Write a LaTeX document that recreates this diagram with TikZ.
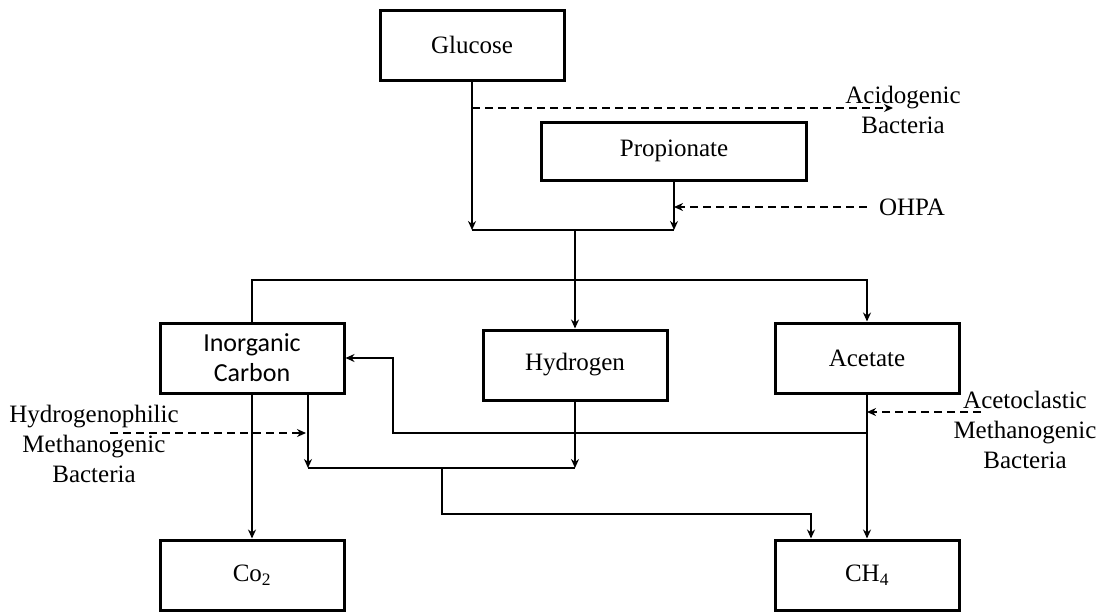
\documentclass[tikz,border=0pt]{standalone}
\usepackage{fontspec}
\setmainfont{Liberation Serif}
\newfontfamily\carlito{Carlito}
\usetikzlibrary{positioning,arrows.meta}

\tikzset{
  boxnode/.style={draw, line width=3pt, minimum width=184pt, minimum height=70pt, inner sep=0pt, align=center},
  flow/.style={line width=2.3pt, -{Stealth[length=9pt,width=8pt]}},
  link/.style={line width=2.3pt},
  bact/.style={line width=2.3pt, dash pattern=on 8pt off 5pt, -{Stealth[length=9pt,width=8pt]}},
  bactlabel/.style={align=center, inner sep=0pt}
}

\begin{document}
\begin{tikzpicture}[x=1pt, y=-1pt, font=\fontsize{25}{30}\selectfont]
    \useasboundingbox (0,0) rectangle (1105,611);

    % boxes
    \node[boxnode] (glucose) at (472,45) {Glucose};
    \node[boxnode, minimum width=265pt, minimum height=58pt] (propionate) at (674,151) {Propionate};
    \node[boxnode, font=\carlito\fontsize{26}{30}\selectfont] (inorganic) at (252,358) {Inorganic\\Carbon};
    \node[boxnode] (hydrogen) at (575,365) {Hydrogen};
    \node[boxnode] (acetate) at (867,358) {Acetate};
    \node[boxnode] (cotwo) at (252,575) {Co\textsubscript{2}};
    \node[boxnode] (methane) at (867,575) {CH\textsubscript{4}};

    % bacteria labels
    \node[bactlabel] (acidogenic) at (903,110) {Acidogenic\\Bacteria};
    \node[bactlabel] (ohpa) at (912,207) {OHPA};
    \node[bactlabel] (aceto) at (1025,430) {Acetoclastic\\Methanogenic\\Bacteria};
    \node[bactlabel] (hydroph) at (94,444) {Hydrogenophilic\\Methanogenic\\Bacteria};

    % junction points
    \coordinate (jtop) at (575,230);
    \coordinate (jmid) at (575,280);
    \coordinate (loop) at (393,433);
    \coordinate (jlow) at (308,468);
    \coordinate (jbot) at (442,514);
    \coordinate (jch) at (811,514);
    \coordinate (acidtip) at (893,108);
    \coordinate (acetostart) at (981,412);
    \coordinate (hydstart) at (110,433);

    % glucose and propionate
    \draw[flow] (glucose.south) -- (glucose.south |- jtop);
    \draw[flow] (propionate.south) -- (propionate.south |- jtop);
    \draw[link] (glucose.south |- jtop) -- (propionate.south |- jtop);
    \draw[flow] (jtop) -- (hydrogen.north);
    \draw[flow] (inorganic.north) -- (inorganic.north |- jmid) -- (acetate.north |- jmid) -- (acetate.north);

    % acetate
    \draw[flow] (acetate.south) -- (methane.north);
    \draw[flow] (acetate.south |- loop) -- (loop) -- (loop |- inorganic.east) -- (inorganic.east);

    % inorganic carbon and hydrogen
    \draw[flow] (inorganic.south) -- (cotwo.north);
    \draw[flow] (jlow |- inorganic.south) -- (jlow);
    \draw[flow] (hydrogen.south) -- (hydrogen.south |- jlow);
    \draw[link] (jlow) -- (hydrogen.south |- jlow);
    \draw[flow] (jbot |- jlow) -- (jbot) -- (jch) -- (jch |- methane.north);

    % bacteria
    \draw[bact] (glucose.south |- acidtip) -- (acidtip);
    \draw[bact] ([xshift=-12pt]ohpa.west) -- (propionate.south |- ohpa.west);
    \draw[bact] (acetostart) -- (acetate.south |- acetostart);
    \draw[bact] (hydstart) -- ([xshift=-2pt]jlow |- hydstart);
\end{tikzpicture}
\end{document}
